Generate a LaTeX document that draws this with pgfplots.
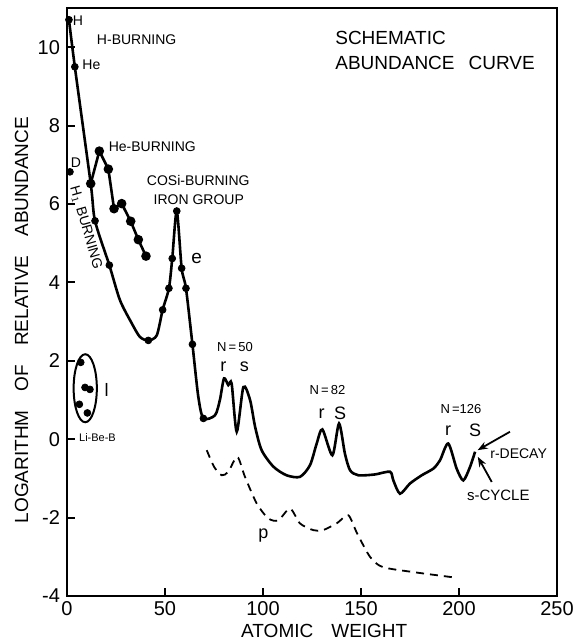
\documentclass[border=0pt]{standalone}
\usepackage{pgfplots}
\pgfplotsset{compat=1.18}
\usepackage{fontspec}
\setmainfont{Liberation Sans}
\usetikzlibrary{arrows.meta}
\newcommand\fs[1]{\fontsize{#1}{#1}\selectfont}
\begin{document}
\begin{tikzpicture}
\path[use as bounding box] (-33.5pt,-23.5pt) rectangle (253.5pt,298pt);
\begin{axis}[
  at={(0,0)}, anchor=south west,
  scale only axis, width=245pt, height=294pt,
  xmin=0, xmax=250, ymin=-4, ymax=11,
  xtick={0,50,...,250}, ytick={-4,-2,...,10},
  xtick pos=bottom, ytick pos=left,
  tick align=inside, major tick length=4pt,
  tick style={line width=1pt, black},
  axis line style={line width=1.3pt},
  /pgf/number format/assume math mode=true,
  ticklabel style={font=\fs{10}},
  xticklabel style={yshift=1pt},
  clip=false,
  xlabel={ATOMIC\hspace{9pt}WEIGHT},
  xlabel style={font=\fs{9.5}, at={(axis description cs:0.525,-0.059)}, anchor=center},
  ylabel={LOGARITHM\hspace{1em}OF\hspace{1em}RELATIVE\hspace{1em}ABUNDANCE},
  ylabel style={font=\fs{9.5}, at={(axis description cs:-0.0925,0.469)}, anchor=center, rotate=0},
]
% main curve
\addplot[black, line width=1.3pt, smooth, tension=0.45] coordinates {
(1,10.7) (4,9.5) (12.1,6.52) (14.3,5.57) (21.6,4.44) (27,3.55) (33,2.96) (37.2,2.61)
(41.5,2.52) (45.8,2.65) (48.8,3.3) (52,3.85) (53.7,4.61) (56,5.82) (58.5,4.36) (60.7,3.85)
(64,2.42) (67,1.08) (69.6,0.53) (75.5,0.61) (78,1.0) (80.1,1.55) (82.3,1.38) (84,1.42)
(86.6,0.19) (90,1.33) (93.4,1.0) (96,0.31) (99.3,-0.28) (105.3,-0.7) (112,-0.92)
(118.9,-0.96) (124,-0.66) (127.4,-0.11) (130.3,0.25) (135.4,-0.41) (138.8,0.4)
(141.8,-0.37) (144.4,-0.79) (148.6,-0.92) (157,-0.9) (164.8,-0.83) (166.5,-1.05)
(169.9,-1.39) (175,-1.13) (181,-0.92) (186.9,-0.75) (190.3,-0.54) (194.5,-0.11)
(198.8,-0.75) (202.2,-1.05) (205.6,-0.71) (208.2,-0.32)
};
% He-burning branch
\addplot[black, line width=1.3pt, mark=*, mark size=1.7pt] coordinates {
(12.1,6.52) (16.5,7.35) (21.1,6.89) (24,5.88) (27.9,6.01) (32.5,5.56) (36.4,5.09) (40.3,4.67)
};
% dots on main curve
\addplot[only marks, mark=*, mark size=1.7pt, black] coordinates {
(1,10.7) (4,9.5) (1.5,6.82) (14.3,5.57) (21.6,4.44) (41.5,2.52) (48.8,3.3) (52,3.85)
(53.7,4.61) (56,5.82) (58.5,4.36) (60.7,3.85) (64,2.42) (69.6,0.53)
};
% Li-Be-B
\addplot[only marks, mark=*, mark size=1.7pt, black] coordinates {
(7,1.96) (9.2,1.32) (11.7,1.27) (6.3,0.89) (10.4,0.67)
};
% p-process dashed
\addplot[black, line width=0.9pt, dash pattern=on 4pt off 3pt, smooth, tension=0.45] coordinates {
(71.3,-0.28) (75,-0.7) (78.9,-0.92) (82.3,-0.83) (86.9,-0.45) (90.8,-0.96) (96.8,-1.64)
(102.7,-2.02) (107.8,-2.07) (113.8,-1.77) (118.9,-2.15) (125.7,-2.32) (130.6,-2.32)
(137.8,-2.14) (143.5,-1.94) (148,-2.4) (154.6,-3.0) (161,-3.26) (176.7,-3.39) (196.5,-3.52)
};
\draw[line width=1pt] (axis cs:9.3,1.3) ellipse [x radius=5.8pt, y radius=17pt];
\draw[line width=0.9pt, -{Stealth[length=5pt]}] (axis cs:226,0.19) -- (axis cs:209.5,-0.28);
\draw[line width=0.9pt, -{Stealth[length=5pt]}] (axis cs:216.7,-1.09) -- (axis cs:209.6,-0.45);
% texts
\node[font=\fs{7}] at (axis cs:5.6,10.67) {H};
\node[font=\fs{7}, anchor=west, inner sep=0pt] at (axis cs:7.7,9.56) {He};
\node[font=\fs{7}] at (axis cs:4.6,7.06) {D};
\node[font=\fs{7}, anchor=west, inner sep=0pt] at (axis cs:15.1,10.2) {H-BURNING};
\node[font=\fs{7}, anchor=west, inner sep=0pt] at (axis cs:21.1,7.46) {He-BURNING};
\node[font=\fs{7}, anchor=west, inner sep=0pt] at (axis cs:40.6,6.61) {COSi-BURNING};
\node[font=\fs{7}, anchor=west, inner sep=0pt] at (axis cs:44,6.1) {IRON GROUP};
\node[font=\fs{7}, rotate=-74, inner sep=0pt] at (axis cs:9.6,5.4) {H$_1$ BURNING};
\node[font=\fs{9.5}] at (axis cs:66.2,4.61) {e};
\node[font=\fs{9.5}, anchor=west, inner sep=0pt] at (axis cs:136.7,10.23) {SCHEMATIC};
\node[font=\fs{9.5}, anchor=west, inner sep=0pt] at (axis cs:136.7,9.59) {ABUNDANCE\hspace{7pt}CURVE};
\node[font=\fs{9}] at (axis cs:20.2,1.25) {l};
\node[font=\fs{5.5}, anchor=west, inner sep=0pt] at (axis cs:6,0.03) {Li-Be-B};
\node[font=\fs{6.5}] at (axis cs:85.7,2.35) {N\,=\,50};
\node[font=\fs{9}] at (axis cs:79.8,1.85) {r};
\node[font=\fs{9}] at (axis cs:90.5,1.85) {s};
\node[font=\fs{9}] at (axis cs:100.2,-2.45) {p};
\node[font=\fs{6.5}] at (axis cs:132.9,1.25) {N\,=\,82};
\node[font=\fs{9}] at (axis cs:129.9,0.66) {r};
\node[font=\fs{9}] at (axis cs:139.3,0.66) {S};
\node[font=\fs{6.5}] at (axis cs:201,0.78) {N\,=126};
\node[font=\fs{9}] at (axis cs:194.4,0.23) {r};
\node[font=\fs{9}] at (axis cs:208.2,0.23) {S};
\node[font=\fs{7}, anchor=west, inner sep=0pt] at (axis cs:215.8,-0.37) {r-DECAY};
\node[font=\fs{7.5}, anchor=west, inner sep=0pt] at (axis cs:203.9,-1.43) {s-CYCLE};
\end{axis}
\end{tikzpicture}
\end{document}
